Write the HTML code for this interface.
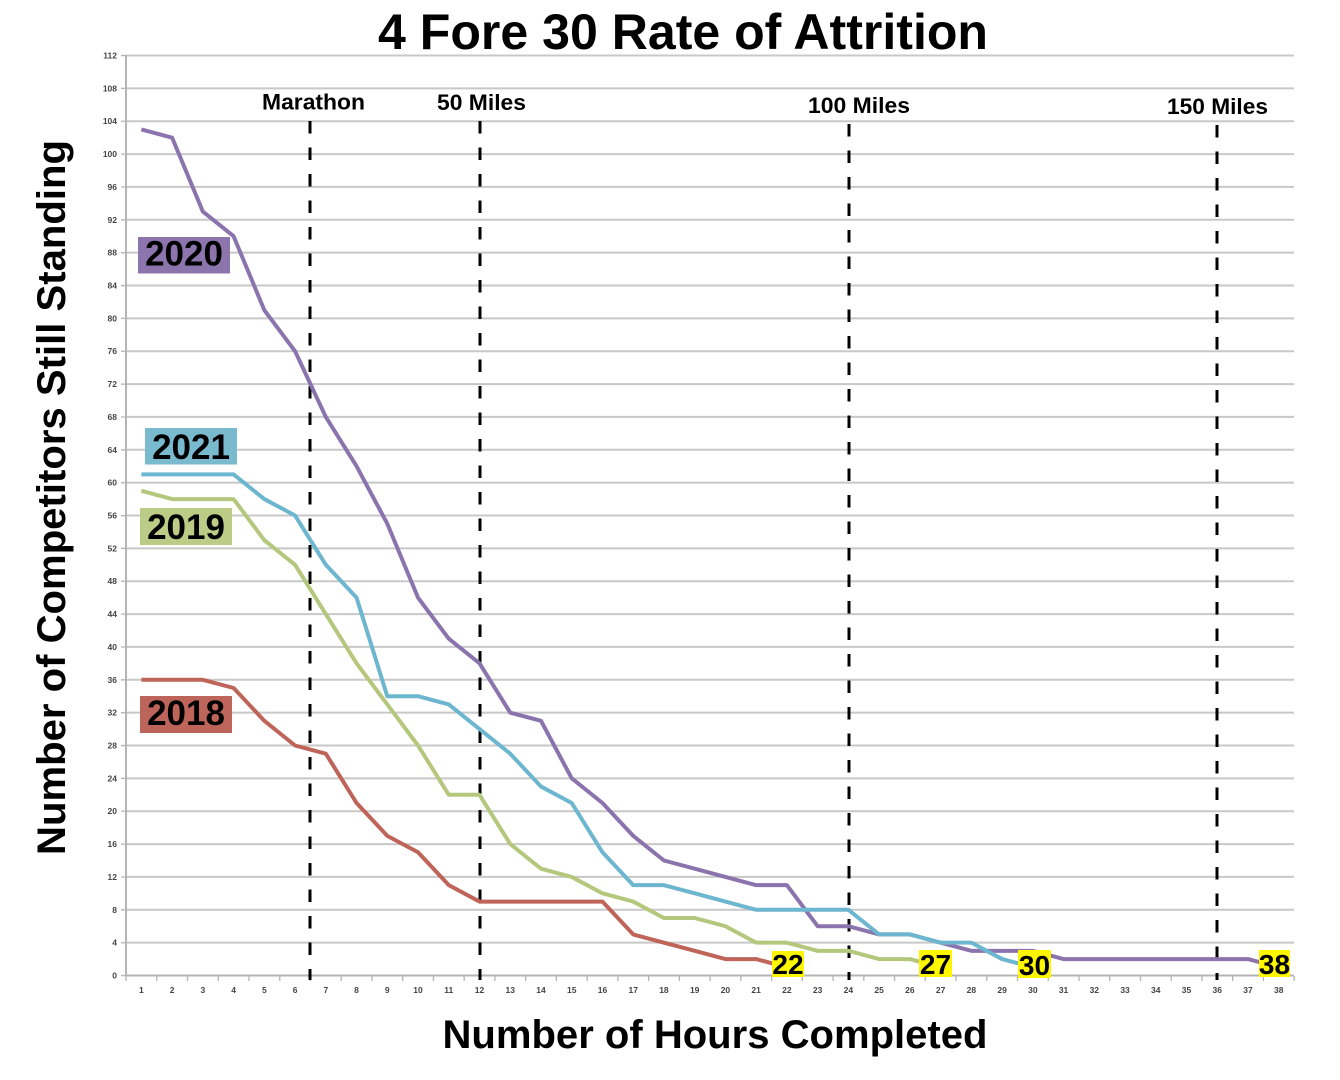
<!DOCTYPE html>
<html>
<head>
<meta charset="utf-8">
<style>
  html,body{margin:0;padding:0;background:#fff;}
  svg{display:block;}
  text{font-family:"Liberation Sans",Arial,sans-serif;}
</style>
</head>
<body>
<svg width="1340" height="1080" viewBox="0 0 1340 1080" xmlns="http://www.w3.org/2000/svg">
  <rect width="1340" height="1080" fill="#fff"/>

  <!-- Title -->
  <text x="683" y="49" text-anchor="middle" font-size="50" font-weight="bold" fill="#000" textLength="610" lengthAdjust="spacingAndGlyphs">4 Fore 30 Rate of Attrition</text>

  <!-- Gridlines -->
  <g stroke="#c8c8c8" stroke-width="2">
    <line x1="126" x2="1294" y1="942.64" y2="942.64"/>
    <line x1="126" x2="1294" y1="909.79" y2="909.79"/>
    <line x1="126" x2="1294" y1="876.93" y2="876.93"/>
    <line x1="126" x2="1294" y1="844.07" y2="844.07"/>
    <line x1="126" x2="1294" y1="811.21" y2="811.21"/>
    <line x1="126" x2="1294" y1="778.36" y2="778.36"/>
    <line x1="126" x2="1294" y1="745.5" y2="745.5"/>
    <line x1="126" x2="1294" y1="712.64" y2="712.64"/>
    <line x1="126" x2="1294" y1="679.79" y2="679.79"/>
    <line x1="126" x2="1294" y1="646.93" y2="646.93"/>
    <line x1="126" x2="1294" y1="614.07" y2="614.07"/>
    <line x1="126" x2="1294" y1="581.21" y2="581.21"/>
    <line x1="126" x2="1294" y1="548.36" y2="548.36"/>
    <line x1="126" x2="1294" y1="515.5" y2="515.5"/>
    <line x1="126" x2="1294" y1="482.64" y2="482.64"/>
    <line x1="126" x2="1294" y1="449.79" y2="449.79"/>
    <line x1="126" x2="1294" y1="416.93" y2="416.93"/>
    <line x1="126" x2="1294" y1="384.07" y2="384.07"/>
    <line x1="126" x2="1294" y1="351.21" y2="351.21"/>
    <line x1="126" x2="1294" y1="318.36" y2="318.36"/>
    <line x1="126" x2="1294" y1="285.5" y2="285.5"/>
    <line x1="126" x2="1294" y1="252.64" y2="252.64"/>
    <line x1="126" x2="1294" y1="219.79" y2="219.79"/>
    <line x1="126" x2="1294" y1="186.93" y2="186.93"/>
    <line x1="126" x2="1294" y1="154.07" y2="154.07"/>
    <line x1="126" x2="1294" y1="121.21" y2="121.21"/>
    <line x1="126" x2="1294" y1="88.36" y2="88.36"/>
    <line x1="126" x2="1294" y1="55.5" y2="55.5"/>
  </g>
  <!-- Axes -->
  <line x1="126" x2="1294" y1="975.5" y2="975.5" stroke="#b4b4b4" stroke-width="2"/>
  <line x1="126" x2="126" y1="55" y2="976" stroke="#b4b4b4" stroke-width="2"/>
  <!-- Y ticks -->
  <line x1="123.5" x2="123.5" y1="54.9" y2="977" stroke="#b4b4b4" stroke-width="5" stroke-dasharray="1.3 31.557"/>
  <!-- X ticks -->
  <line x1="125.4" x2="1296" y1="978.5" y2="978.5" stroke="#b4b4b4" stroke-width="5" stroke-dasharray="1.3 29.44"/>

  <!-- Y tick labels -->
  <g font-size="8.5" font-weight="bold" fill="#444" text-anchor="end">
    <text x="117" y="978.5">0</text>
    <text x="117" y="945.6">4</text>
    <text x="117" y="912.8">8</text>
    <text x="117" y="879.9">12</text>
    <text x="117" y="847.1">16</text>
    <text x="117" y="814.2">20</text>
    <text x="117" y="781.4">24</text>
    <text x="117" y="748.5">28</text>
    <text x="117" y="715.6">32</text>
    <text x="117" y="682.8">36</text>
    <text x="117" y="649.9">40</text>
    <text x="117" y="617.1">44</text>
    <text x="117" y="584.2">48</text>
    <text x="117" y="551.4">52</text>
    <text x="117" y="518.5">56</text>
    <text x="117" y="485.6">60</text>
    <text x="117" y="452.8">64</text>
    <text x="117" y="419.9">68</text>
    <text x="117" y="387.1">72</text>
    <text x="117" y="354.2">76</text>
    <text x="117" y="321.4">80</text>
    <text x="117" y="288.5">84</text>
    <text x="117" y="255.6">88</text>
    <text x="117" y="222.8">92</text>
    <text x="117" y="189.9">96</text>
    <text x="117" y="157.1">100</text>
    <text x="117" y="124.2">104</text>
    <text x="117" y="91.4">108</text>
    <text x="117" y="58.5">112</text>
  </g>

  <!-- X tick labels -->
  <g font-size="8.5" font-weight="bold" fill="#444" text-anchor="middle">
    <text x="141.37" y="993">1</text>
    <text x="172.11" y="993">2</text>
    <text x="202.85" y="993">3</text>
    <text x="233.59" y="993">4</text>
    <text x="264.33" y="993">5</text>
    <text x="295.07" y="993">6</text>
    <text x="325.81" y="993">7</text>
    <text x="356.55" y="993">8</text>
    <text x="387.29" y="993">9</text>
    <text x="418.03" y="993">10</text>
    <text x="448.77" y="993">11</text>
    <text x="479.51" y="993">12</text>
    <text x="510.25" y="993">13</text>
    <text x="540.99" y="993">14</text>
    <text x="571.73" y="993">15</text>
    <text x="602.47" y="993">16</text>
    <text x="633.21" y="993">17</text>
    <text x="663.95" y="993">18</text>
    <text x="694.69" y="993">19</text>
    <text x="725.43" y="993">20</text>
    <text x="756.17" y="993">21</text>
    <text x="786.91" y="993">22</text>
    <text x="817.65" y="993">23</text>
    <text x="848.39" y="993">24</text>
    <text x="879.13" y="993">25</text>
    <text x="909.87" y="993">26</text>
    <text x="940.61" y="993">27</text>
    <text x="971.35" y="993">28</text>
    <text x="1002.09" y="993">29</text>
    <text x="1032.83" y="993">30</text>
    <text x="1063.57" y="993">31</text>
    <text x="1094.31" y="993">32</text>
    <text x="1125.05" y="993">33</text>
    <text x="1155.79" y="993">34</text>
    <text x="1186.53" y="993">35</text>
    <text x="1217.27" y="993">36</text>
    <text x="1248.01" y="993">37</text>
    <text x="1278.75" y="993">38</text>
  </g>

  <!-- Milestone dashed lines -->
  <g stroke="#000" stroke-width="3" stroke-dasharray="12.5 14">
    <line x1="310" x2="310" y1="121" y2="980"/>
    <line x1="480" x2="480" y1="121" y2="980"/>
    <line x1="849" x2="849" y1="124" y2="980"/>
    <line x1="1217" x2="1217" y1="125" y2="980"/>
  </g>
  <g font-size="22.5" font-weight="bold" fill="#000">
    <text x="262" y="109.5" textLength="103" lengthAdjust="spacingAndGlyphs">Marathon</text>
    <text x="437" y="110" textLength="89" lengthAdjust="spacingAndGlyphs">50 Miles</text>
    <text x="808" y="113" textLength="102" lengthAdjust="spacingAndGlyphs">100 Miles</text>
    <text x="1167" y="114" textLength="101" lengthAdjust="spacingAndGlyphs">150 Miles</text>
  </g>

  <!-- Data series -->
  <g transform="translate(110.63,975.5) scale(30.74,-8.2143)" fill="none" stroke-width="4" stroke-linejoin="round" stroke-linecap="butt">
    <!-- 2018 -->
    <polyline vector-effect="non-scaling-stroke" stroke="#BF6459" points="1,36 2,36 3,36 4,35 5,31 6,28 7,27 8,21 9,17 10,15 11,11 12,9 13,9 14,9 15,9 16,9 17,5 18,4 19,3 20,2 21,2 22,1"/>
    <!-- 2019 -->
    <polyline vector-effect="non-scaling-stroke" stroke="#B5C77C" points="1,59 2,58 3,58 4,58 5,53 6,50 7,44 8,38 9,33 10,28 11,22 12,22 13,16 14,13 15,12 16,10 17,9 18,7 19,7 20,6 21,4 22,4 23,3 24,3 25,2 26,2 27,1"/>
    <!-- 2020 -->
    <polyline vector-effect="non-scaling-stroke" stroke="#8B74AD" points="1,103 2,102 3,93 4,90 5,81 6,76 7,68 8,62 9,55 10,46 11,41 12,38 13,32 14,31 15,24 16,21 17,17 18,14 19,13 20,12 21,11 22,11 23,6 24,6 25,5 26,5 27,4 28,3 29,3 30,3 31,2 32,2 33,2 34,2 35,2 36,2 37,2 38,1"/>
    <!-- 2021 -->
    <polyline vector-effect="non-scaling-stroke" stroke="#6DB6CF" points="1,61 2,61 3,61 4,61 5,58 6,56 7,50 8,46 9,34 10,34 11,33 12,30 13,27 14,23 15,21 16,15 17,11 18,11 19,10 20,9 21,8 22,8 23,8 24,8 25,5 26,5 27,4 28,4 29,2 30,1"/>
  </g>

  <!-- Year labels -->
  <g font-size="35" font-weight="bold" fill="#000" text-anchor="middle">
    <rect x="138" y="237" width="92" height="36.5" fill="#8C74AC"/>
    <text x="184" y="265.5">2020</text>
    <rect x="145" y="428" width="92" height="36.5" fill="#79BACF"/>
    <text x="191" y="459">2021</text>
    <rect x="140" y="508" width="92" height="37" fill="#BCCB85"/>
    <text x="186" y="539">2019</text>
    <rect x="140" y="696" width="92" height="37" fill="#BE655B"/>
    <text x="186" y="725">2018</text>
  </g>

  <!-- Final hour labels -->
  <g font-size="28" font-weight="bold" fill="#000" text-anchor="middle">
    <rect x="772" y="951" width="32" height="26" fill="#FFF700"/>
    <text x="788" y="974">22</text>
    <rect x="919" y="950" width="33" height="27" fill="#FFF700"/>
    <text x="935.5" y="974">27</text>
    <rect x="1018" y="950" width="33" height="28" fill="#FFF700"/>
    <text x="1034.5" y="975">30</text>
    <rect x="1259" y="950" width="31" height="27" fill="#FFF700"/>
    <text x="1274.5" y="974">38</text>
  </g>

  <!-- Axis titles -->
  <text x="715" y="1048" text-anchor="middle" font-size="40" font-weight="bold" fill="#000" textLength="545" lengthAdjust="spacingAndGlyphs">Number of Hours Completed</text>
  <text transform="translate(65,497.5) rotate(-90)" x="0" y="0" text-anchor="middle" font-size="40" font-weight="bold" fill="#000" textLength="715" lengthAdjust="spacingAndGlyphs">Number of Competitors Still Standing</text>
</svg>
</body>
</html>
